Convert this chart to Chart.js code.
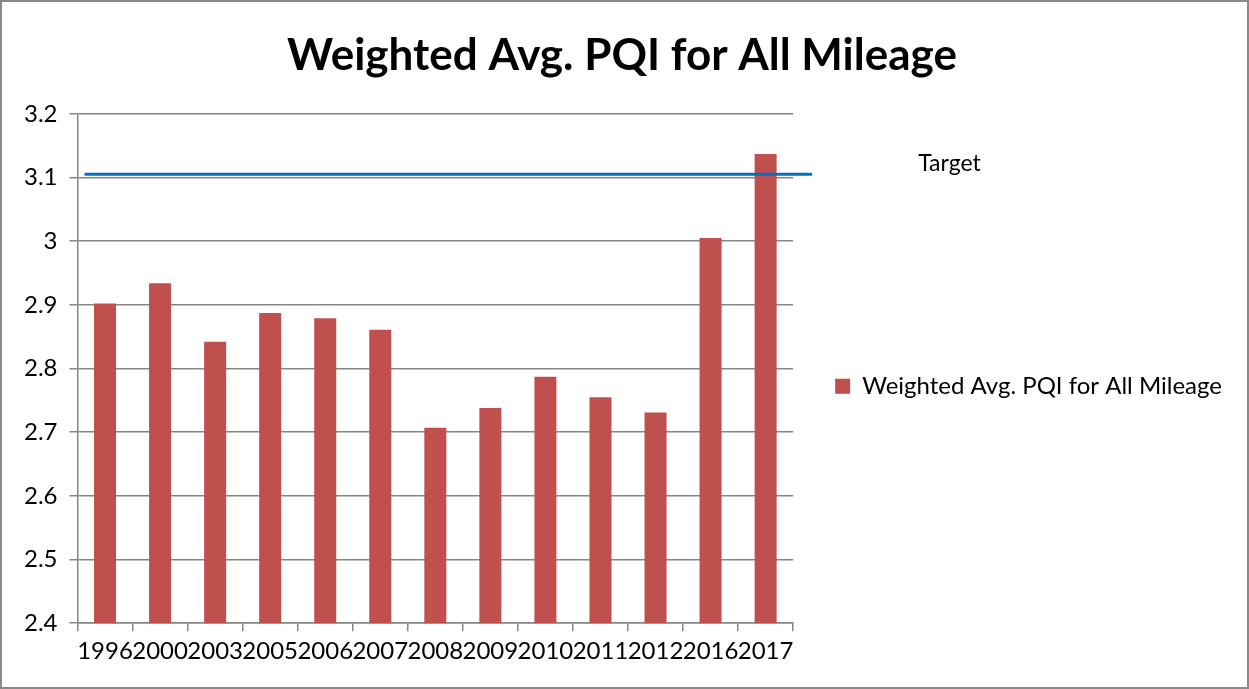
<!DOCTYPE html>
<html>
<head>
<meta charset="utf-8">
<script src="https://cdn.jsdelivr.net/npm/chart.js@4"></script>
<style>
  body { margin: 0; background: #fff; }
  #box { width: 1249px; height: 689px; box-sizing: border-box; border: 2px solid #898989; position: relative; }
  canvas { display: block; }
</style>
</head>
<body>
<div id="box"><canvas id="grafico"></canvas></div>
<script>
// data
const anos = ['1996', '2000', '2003', '2005', '2006', '2007', '2008', '2009', '2010', '2011', '2012', '2016', '2017'];
const pqi = [2.902, 2.934, 2.842, 2.887, 2.879, 2.861, 2.707, 2.738, 2.787, 2.755, 2.731, 3.005, 3.137];
const alvo = 3.105;
const nomeSerie = 'Weighted Avg. PQI for All Mileage';
const titulo = 'Weighted Avg. PQI for All Mileage';

const fonte = 'Lato';
const cinza = '#868686';

// linha da meta + rotulo "Target"
const linhaMeta = {
    id: 'linhaMeta',
    afterInit(chart) {
        // a legenda da direita nao pode ficar limitada a 1/4 da largura
        const lg = chart.legend;
        if (lg) {
            const orig = lg.update.bind(lg);
            lg.update = (w, h, m) => orig(Math.max(w, 520), h, m);
        }
    },
    afterDatasetsDraw(chart) {
        const ctx = chart.ctx;
        const area = chart.chartArea;
        const y = chart.scales.y.getPixelForValue(alvo);
        ctx.save();
        ctx.strokeStyle = '#0070C0';
        ctx.lineWidth = 3;
        ctx.beginPath();
        ctx.moveTo(area.left + 7, y);
        ctx.lineTo(area.right + 19, y);
        ctx.stroke();
        ctx.fillStyle = '#000';
        ctx.font = '23px ' + fonte;
        ctx.textBaseline = 'middle';
        ctx.fillText('Target', area.right + 125, y - 11);
        ctx.restore();
    }
};

function criarGrafico() {
    const contexto = document.getElementById('grafico').getContext('2d');
    new Chart(contexto, {
        type: 'bar',
        data: {
            labels: anos,
            datasets: [{
                label: nomeSerie,
                data: pqi,
                backgroundColor: '#C0504D',
                borderWidth: 0,
                categoryPercentage: 1,
                barPercentage: 0.4,
            }],
        },
        options: {
            responsive: true,
            maintainAspectRatio: false,
            animation: false,
            layout: { padding: { left: 10, right: 15, bottom: 15 } },
            plugins: {
                title: {
                    display: true,
                    text: titulo,
                    color: '#000',
                    font: { family: fonte, size: 44, weight: 'bold' },
                    padding: { top: 27, bottom: 32 },
                },
                legend: {
                    position: 'right',
                    title: { display: true, text: '', font: { size: 12 }, padding: { top: 0, bottom: 84 } },
                    labels: {
                        color: '#000',
                        boxWidth: 15,
                        boxHeight: 15,
                        padding: 42,
                        font: { family: fonte, size: 24 },
                    },
                },
                tooltip: { enabled: false },
            },
            scales: {
                x: {
                    grid: { display: true, drawOnChartArea: false, drawTicks: true, tickLength: 8, color: cinza, lineWidth: 1.5, offset: true },
                    border: { color: cinza, width: 1.5 },
                    ticks: { color: '#000', font: { family: fonte, size: 24 }, autoSkip: false, maxRotation: 0, minRotation: 0, padding: 6 },
                },
                y: {
                    min: 2.4,
                    max: 3.2,
                    grid: { color: cinza, lineWidth: 1.5, tickLength: 8 },
                    border: { color: cinza, width: 1.5 },
                    ticks: {
                        stepSize: 0.1,
                        color: '#000',
                        padding: 12,
                        font: { family: fonte, size: 24 },
                        callback: v => String(parseFloat(v.toFixed(2))),
                    },
                },
            },
        },
        plugins: [linhaMeta],
    });
}

Promise.all([
    document.fonts.load('24px Lato'),
    document.fonts.load('bold 44px Lato'),
]).then(criarGrafico, criarGrafico);
</script>
</body>
</html>
